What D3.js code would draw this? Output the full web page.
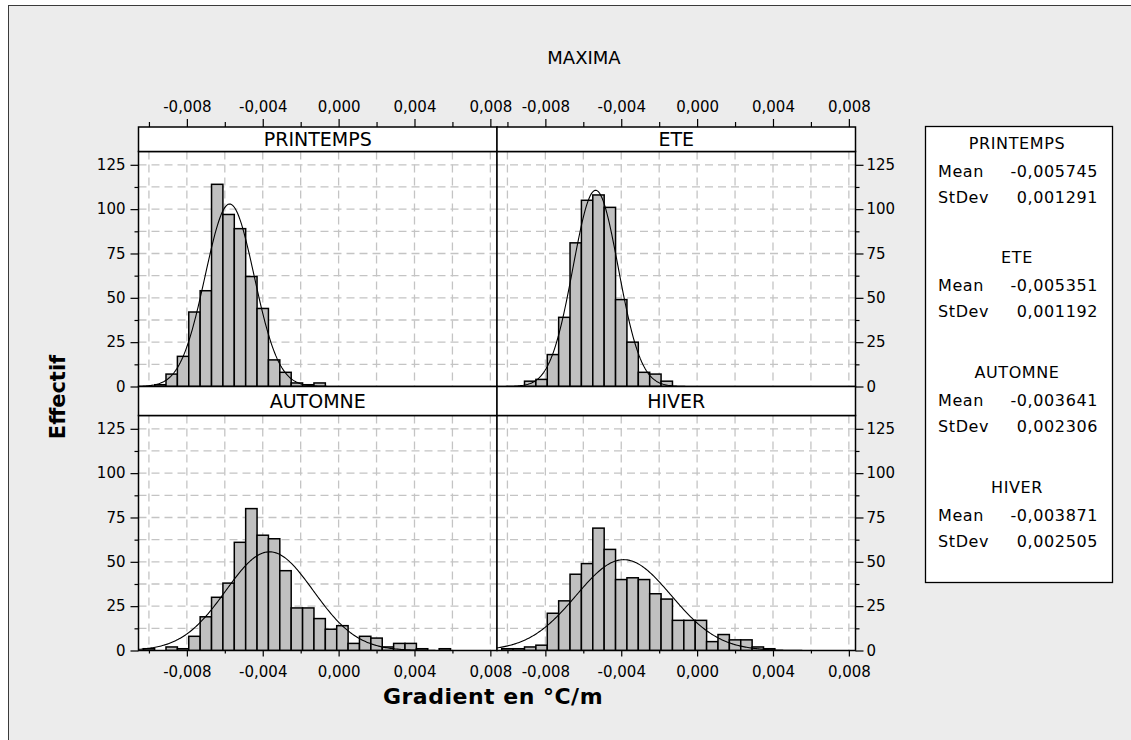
<!DOCTYPE html>
<html><head><meta charset="utf-8">
<script src="https://cdn.jsdelivr.net/npm/d3@7"></script>
<style>
body{margin:0;background:#fff;}
text{font-family:"DejaVu Sans",sans-serif;fill:#000;}
</style>
</head><body>
<svg id="c" width="1131" height="740"></svg>
<script>
// ---------- DATA ----------
const title = "MAXIMA";
const xLabel = "Gradient en °C/m";
const yLabel = "Effectif";
const seasons = ["PRINTEMPS", "ETE", "AUTOMNE", "HIVER"];
const binWidth = 0.0006;
const binMids = [-0.0100,-0.0094,-0.0088,-0.0082,-0.0076,-0.0070,-0.0064,-0.0058,-0.0052,-0.0046,
                 -0.0040,-0.0034,-0.0028,-0.0022,-0.0016,-0.0010,-0.0004,0.0002,0.0008,0.0014,
                 0.0020,0.0026,0.0032,0.0038,0.0044,0.0050,0.0056];
const countsPrintemps = [0,1,7,17,42,54,114,97,89,62,44,15,8,2,1,2,0,0,0,0,0,0,0,0,0,0,0];
const countsEte       = [0,0,3,4,18,39,81,105,108,101,49,25,8,7,3,0,0,0,0,0,0,0,0,0,0,0,0];
const countsAutomne   = [1,0,2,1,8,19,30,38,61,80,65,63,45,24,24,18,12,14,4,8,7,2,4,4,1,0,1];
const countsHiver     = [1,1,2,3,21,28,43,49,69,57,40,41,40,32,29,17,17,17,5,9,6,6,2,1,0,0,0];
const means  = [-0.005745, -0.005351, -0.003641, -0.003871];
const stdevs = [0.001291, 0.001192, 0.002306, 0.002505];
const meanLabels  = ["-0,005745", "-0,005351", "-0,003641", "-0,003871"];
const stdevLabels = ["0,001291", "0,001192", "0,002306", "0,002505"];
const xTicks = [-0.008, -0.004, 0, 0.004, 0.008];
const xTickLabels = ["-0,008", "-0,004", "0,000", "0,004", "0,008"];
const xMinorTicks = [-0.010, -0.006, -0.002, 0.002, 0.006];
const xGrid = [-0.010,-0.008,-0.006,-0.004,-0.002,0,0.002,0.004,0.006,0.008];
const yTicks = [0, 25, 50, 75, 100, 125];
const yMinorTicks = [12.5, 37.5, 62.5, 87.5, 112.5];
const yGrid = [12.5,25,37.5,50,62.5,75,87.5,100,112.5,125];
const xDomain = [-0.01055, 0.00835];
const yDomain = [0, 132.5];

const allCounts = [countsPrintemps, countsEte, countsAutomne, countsHiver];

// ---------- LAYOUT ----------
const svg = d3.select("#c");
svg.append("rect").attr("x",8.5).attr("y",5.5).attr("width",1200).attr("height",800)
  .attr("fill","#ececec").attr("stroke","#3a3a3a").attr("stroke-width",1);

const colX = [[138.5, 497], [497, 855.5]];
const rows = [{strip:[127,151.5], plot:[151.5,386.5]}, {strip:[386.5,415.5], plot:[415.5,650.5]}];

const FS_TICK = "15px";

seasons.forEach((s, i) => {
  const col = i % 2, row = Math.floor(i / 2);
  const [x0, x1] = colX[col];
  const [py0, py1] = rows[row].plot;
  const [sy0, sy1] = rows[row].strip;
  const x = d3.scaleLinear().domain(xDomain).range([x0, x1]);
  const y = d3.scaleLinear().domain(yDomain).range([py1, py0]);
  const g = svg.append("g");
  const clipId = "clip" + i;
  svg.append("clipPath").attr("id", clipId).append("rect")
    .attr("x", x0).attr("y", py0).attr("width", x1 - x0).attr("height", py1 - py0);

  g.append("rect").attr("x", x0).attr("y", py0).attr("width", x1 - x0).attr("height", py1 - py0)
    .attr("fill", "#fff");
  const grid = g.append("g").attr("clip-path", `url(#${clipId})`)
    .attr("stroke", "#c4c4c4").attr("stroke-width", 1.3).attr("stroke-dasharray", "8,5");
  grid.selectAll("line.v").data(xGrid).join("line")
    .attr("x1", d => x(d)).attr("x2", d => x(d)).attr("y1", py0).attr("y2", py1);
  grid.selectAll("line.h").data(yGrid).join("line")
    .attr("y1", d => y(d)).attr("y2", d => y(d)).attr("x1", x0).attr("x2", x1);

  const bars = binMids.map((m, k) => ({m, c: allCounts[i][k]})).filter(d => d.c > 0);
  g.append("g").attr("clip-path", `url(#${clipId})`).selectAll("rect").data(bars).join("rect")
    .attr("x", d => x(d.m - binWidth / 2))
    .attr("width", d => x(d.m + binWidth / 2) - x(d.m - binWidth / 2))
    .attr("y", d => y(d.c)).attr("height", d => y(0) - y(d.c))
    .attr("fill", "#c0c0c0").attr("stroke", "#000").attr("stroke-width", 1.5);

  const n = d3.sum(allCounts[i]);
  const mu = means[i], sd = stdevs[i];
  const pts = d3.range(0, 301).map(k => xDomain[0] + (xDomain[1] - xDomain[0]) * k / 300);
  const line = d3.line().x(v => x(v))
    .y(v => y(n * binWidth * Math.exp(-0.5 * ((v - mu) / sd) ** 2) / (sd * Math.sqrt(2 * Math.PI))));
  g.append("path").attr("clip-path", `url(#${clipId})`).datum(pts).attr("d", line)
    .attr("fill", "none").attr("stroke", "#000").attr("stroke-width", 1.1);

  g.append("rect").attr("x", x0).attr("y", py0).attr("width", x1 - x0).attr("height", py1 - py0)
    .attr("fill", "none").attr("stroke", "#000").attr("stroke-width", 1.5);
  g.append("rect").attr("x", x0).attr("y", sy0).attr("width", x1 - x0).attr("height", sy1 - sy0)
    .attr("fill", "#fff").attr("stroke", "#000").attr("stroke-width", 1.5);
  g.append("text").attr("x", (x0 + x1) / 2).attr("y", (sy0 + sy1) / 2 + 7)
    .attr("text-anchor", "middle").style("font-size", "19px").text(s);

  const styleAxis = sel => {
    sel.select(".domain").remove();
    sel.selectAll("line").attr("stroke", "#000").attr("stroke-width", 1.2);
    sel.selectAll("text").style("font-size", FS_TICK).style("font-family", "DejaVu Sans").attr("fill", "#000");
  };
  if (row === 0) {
    svg.append("g").attr("transform", `translate(0,${sy0})`)
      .call(d3.axisTop(x).tickValues(xTicks).tickFormat((d, k) => xTickLabels[k]).tickSize(8).tickPadding(7))
      .call(styleAxis);
    svg.append("g").attr("transform", `translate(0,${sy0})`)
      .call(d3.axisTop(x).tickValues(xMinorTicks).tickFormat("").tickSize(5)).call(styleAxis);
  } else {
    svg.append("g").attr("transform", `translate(0,${py1})`)
      .call(d3.axisBottom(x).tickValues(xTicks).tickFormat((d, k) => xTickLabels[k]).tickSize(6).tickPadding(10))
      .call(styleAxis);
    svg.append("g").attr("transform", `translate(0,${py1})`)
      .call(d3.axisBottom(x).tickValues(xMinorTicks).tickFormat("").tickSize(3)).call(styleAxis);
  }
  if (col === 0) {
    svg.append("g").attr("transform", `translate(${x0},0)`)
      .call(d3.axisLeft(y).tickValues(yTicks).tickSize(8).tickPadding(5)).call(styleAxis);
    svg.append("g").attr("transform", `translate(${x0},0)`)
      .call(d3.axisLeft(y).tickValues(yMinorTicks).tickFormat("").tickSize(4)).call(styleAxis);
  } else {
    svg.append("g").attr("transform", `translate(${x1},0)`)
      .call(d3.axisRight(y).tickValues(yTicks).tickSize(8).tickPadding(3)).call(styleAxis);
    svg.append("g").attr("transform", `translate(${x1},0)`)
      .call(d3.axisRight(y).tickValues(yMinorTicks).tickFormat("").tickSize(4)).call(styleAxis);
  }
});

svg.append("text").attr("x", 584).attr("y", 64).attr("text-anchor", "middle")
  .style("font-size", "18px").text(title);
svg.append("text").attr("x", 493).attr("y", 704).attr("text-anchor", "middle")
  .style("font-size", "22px").style("font-weight", "bold").style("letter-spacing", "0.5px").text(xLabel);
svg.append("text").attr("transform", "translate(65,397) rotate(-90)").attr("text-anchor", "middle")
  .style("font-size", "21px").style("font-weight", "bold").text(yLabel);

const lg = svg.append("g");
lg.append("rect").attr("x", 925.5).attr("y", 126.5).attr("width", 187).attr("height", 456)
  .attr("fill", "#fff").attr("stroke", "#000").attr("stroke-width", 1.3);
seasons.forEach((s, i) => {
  const top = 148.5 + i * 114.7;
  const fs = "16px";
  lg.append("text").attr("x", 1017).attr("y", top).attr("text-anchor", "middle")
    .style("font-size", fs).style("letter-spacing", "0.6px").text(s);
  lg.append("text").attr("x", 938).attr("y", top + 28).style("font-size", fs).style("letter-spacing", "0.6px").text("Mean");
  lg.append("text").attr("x", 1098).attr("y", top + 28).attr("text-anchor", "end")
    .style("font-size", fs).style("letter-spacing", "0.6px").text(meanLabels[i]);
  lg.append("text").attr("x", 938).attr("y", top + 54).style("font-size", fs).style("letter-spacing", "0.6px").text("StDev");
  lg.append("text").attr("x", 1098).attr("y", top + 54).attr("text-anchor", "end")
    .style("font-size", fs).style("letter-spacing", "0.6px").text(stdevLabels[i]);
});
</script>
</body></html>
